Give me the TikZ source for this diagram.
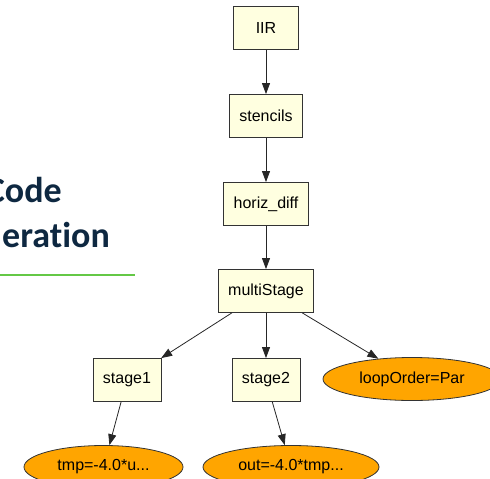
\documentclass[tikz,border=0pt]{standalone}
\usepackage{fontspec}
\setmainfont{Liberation Sans}
\newfontfamily\titlefont[Ligatures=NoCommon]{Carlito}
\usepackage{tikz}
\usetikzlibrary{arrows.meta}
\usetikzlibrary{shapes.geometric}
\definecolor{boxyellow}{RGB}{255,255,224}
\definecolor{ellorange}{RGB}{255,165,0}
\definecolor{titlenavy}{RGB}{14,40,65}
\definecolor{rulegreen}{RGB}{100,200,70}
\tikzset{
    irbox/.style={draw=black!80, line width=0.8pt, fill=boxyellow, rectangle,
        minimum width=65pt, minimum height=43pt, inner xsep=10pt,
        font=\fontsize{16}{19}\selectfont},
    irleaf/.style={draw=black!80, line width=0.8pt, fill=ellorange, ellipse,
        inner sep=0pt, minimum height=43pt,
        font=\fontsize{16}{19}\selectfont},
    iredge/.style={draw=black!85, line width=0.8pt, -{Triangle[length=11pt,width=8pt]}}
}
\begin{document}
\begin{tikzpicture}[x=1pt, y=-1pt]
        \useasboundingbox (0,0) rectangle (490,479);

        % Draw slide title
        \node[anchor=base east, inner sep=0pt, text=titlenavy, font=\titlefont\bfseries\fontsize{36}{40}\selectfont] (title1) at (62,202) {Code};
        \node[anchor=base east, inner sep=0pt, text=titlenavy, font=\titlefont\bfseries\fontsize{36}{40}\selectfont] (title2) at (110,247) {eration};
        \draw[rulegreen, line width=1.2pt] (0,275) -- (135,275);

        % Draw boxes
        \node[irbox] (iir) at (266,28) {IIR};
        \node[irbox] (stencils) at (266,116) {stencils};
        \node[irbox] (horiz) at (266,204) {horiz\_diff};
        \node[irbox] (multi) at (266,291) {multiStage};
        \node[irbox] (stage1) at (127,380) {stage1};
        \node[irbox] (stage2) at (266,380) {stage2};

        % Draw leaves
        \node[irleaf, minimum width=178pt] (loop) at (412,379) {loopOrder=Par};
        \node[irleaf, minimum width=159pt] (tmp) at (103.5,467) {tmp=-4.0*u...};
        \node[irleaf, minimum width=176pt] (out) at (291,467) {out=-4.0*tmp...};

        % Draw edges
        \draw[iredge] (iir) -- (stencils);
        \draw[iredge] (stencils) -- (horiz);
        \draw[iredge] (horiz) -- (multi);
        \draw[iredge] (multi) -- (stage1);
        \draw[iredge] (multi) -- (stage2);
        \draw[iredge] (multi) -- (loop);
        \draw[iredge] (stage1) -- (tmp);
        \draw[iredge] (stage2) -- (out);
    \end{tikzpicture}
\end{document}
